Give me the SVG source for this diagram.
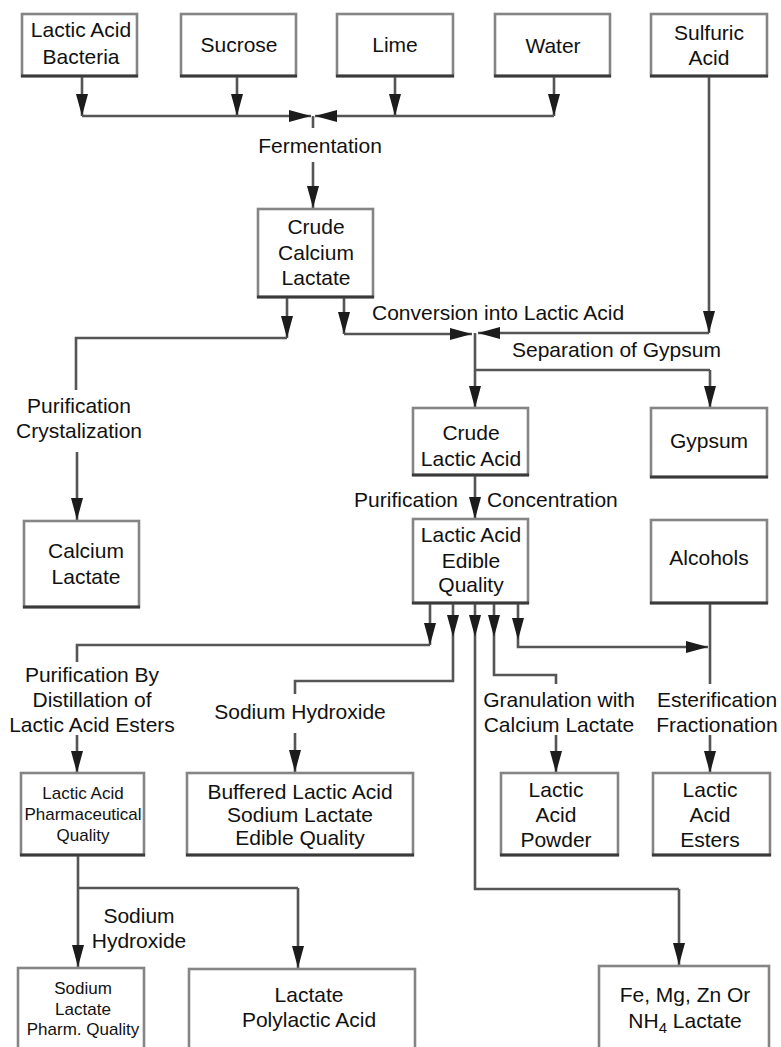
<svg xmlns="http://www.w3.org/2000/svg" width="781" height="1047" viewBox="0 0 781 1047">
  <style>
    text { font-family: "Liberation Sans", Arial, sans-serif; font-size: 21px; fill: #111; text-anchor: middle; }
    text.sm { font-size: 17px; }
    text.l { text-anchor: start; }
    text.r { text-anchor: end; }
    .box { fill: #fff; stroke: #858585; stroke-width: 2.6; }
    .base { stroke: #3a3a3a; stroke-width: 3; }
    .ln { fill: none; stroke: #555; stroke-width: 2.6; stroke-linejoin: miter; }
    .ar { fill: none; stroke: #555; stroke-width: 2.6; marker-end: url(#ah); }
  </style>
  <defs>
    <marker id="ah" markerUnits="userSpaceOnUse" markerWidth="22" markerHeight="12" refX="22" refY="6" orient="auto">
      <path d="M0,0 L22,6 L0,12 Z" fill="#1c1c1c"/>
    </marker>
  </defs>
  <rect width="781" height="1047" fill="#fff"/>

  <!-- connectors -->
  <g id="connectors">
    <!-- raw materials into fermentation -->
    <path class="ar" d="M82,76 V116"/>
    <path class="ar" d="M237,76 V116"/>
    <path class="ar" d="M395,76 V116"/>
    <path class="ar" d="M554,76 V116"/>
    <path class="ar" d="M82,116 H311"/>
    <path class="ar" d="M554,116 H315"/>
    <path class="ln" d="M313,116 V128"/>
    <path class="ar" d="M313,162 V208"/>
    <!-- crude calcium lactate branches -->
    <path class="ar" d="M287,297 V338"/>
    <path class="ln" d="M287,338 H76 V390"/>
    <path class="ar" d="M77,452 V520"/>
    <path class="ar" d="M344,297 V334"/>
    <path class="ar" d="M344,334 H472"/>
    <!-- sulfuric acid -->
    <path class="ar" d="M709,76 V333"/>
    <path class="ar" d="M709,333 H478"/>
    <!-- gypsum separation -->
    <path class="ar" d="M475,333 V408"/>
    <path class="ln" d="M475,370 H710"/>
    <path class="ar" d="M710,370 V408"/>
    <path class="ar" d="M475,475 V519"/>
    <!-- edible quality outputs -->
    <path class="ar" d="M430,603 V645"/>
    <path class="ln" d="M430,645 H77 V662"/>
    <path class="ar" d="M453,603 V637"/>
    <path class="ln" d="M453,637 V681 H295 V694"/>
    <path class="ar" d="M475,603 V637"/>
    <path class="ln" d="M475,637 V889 H679"/>
    <path class="ar" d="M679,889 V965"/>
    <path class="ar" d="M494,603 V637"/>
    <path class="ln" d="M494,637 V675 H556 V684"/>
    <path class="ar" d="M518,603 V640"/>
    <path class="ar" d="M518,640 V647 H708"/>
    <path class="ln" d="M710,603 V684"/>
    <path class="ar" d="M77,735 V773"/>
    <path class="ar" d="M295,733 V772"/>
    <path class="ar" d="M556,735 V773"/>
    <path class="ar" d="M710,735 V773"/>
    <!-- pharmaceutical quality outputs -->
    <path class="ar" d="M78,855 V967"/>
    <path class="ln" d="M78,888 H298"/>
    <path class="ar" d="M298,888 V968"/>
  </g>

  <!-- process labels -->
  <g id="labels">
    <text x="320" y="153">Fermentation</text>
    <text class="l" x="372" y="320">Conversion into Lactic Acid</text>
    <text class="l" x="512" y="357">Separation of Gypsum</text>
    <text x="79" y="413">Purification</text>
    <text x="79" y="438">Crystalization</text>
    <text class="r" x="458" y="507">Purification</text>
    <text class="l" x="487" y="507">Concentration</text>
    <text x="92" y="682">Purification By</text>
    <text x="92" y="707">Distillation of</text>
    <text x="92" y="732">Lactic Acid Esters</text>
    <text x="300" y="719">Sodium Hydroxide</text>
    <text x="559" y="707">Granulation with</text>
    <text x="559" y="732">Calcium Lactate</text>
    <text x="717" y="707">Esterification</text>
    <text x="717" y="732">Fractionation</text>
    <text x="139" y="923">Sodium</text>
    <text x="139" y="948">Hydroxide</text>
  </g>

  <g id="lactic-acid-bacteria">
    <rect class="box" x="22" y="14" width="115" height="62"/>
    <line class="base" x1="21" y1="76" x2="138" y2="76"/>
    <text x="81" y="37">Lactic Acid</text>
    <text x="81" y="64">Bacteria</text>
  </g>
  <g id="sucrose">
    <rect class="box" x="181" y="14" width="115" height="62"/>
    <line class="base" x1="180" y1="76" x2="297" y2="76"/>
    <text x="239" y="52">Sucrose</text>
  </g>
  <g id="lime">
    <rect class="box" x="337" y="14" width="116" height="62"/>
    <line class="base" x1="336" y1="76" x2="454" y2="76"/>
    <text x="395" y="52">Lime</text>
  </g>
  <g id="water">
    <rect class="box" x="495" y="14" width="115" height="62"/>
    <line class="base" x1="494" y1="76" x2="611" y2="76"/>
    <text x="553" y="53">Water</text>
  </g>
  <g id="sulfuric-acid">
    <rect class="box" x="651" y="14" width="116" height="62"/>
    <line class="base" x1="650" y1="76" x2="768" y2="76"/>
    <text x="709" y="40">Sulfuric</text>
    <text x="709" y="65">Acid</text>
  </g>
  <g id="crude-calcium-lactate">
    <rect class="box" x="258" y="209" width="115" height="88"/>
    <line class="base" x1="257" y1="297" x2="374" y2="297"/>
    <text x="316" y="234">Crude</text>
    <text x="316" y="260">Calcium</text>
    <text x="316" y="285">Lactate</text>
  </g>
  <g id="crude-lactic-acid">
    <rect class="box" x="413" y="408" width="115" height="67"/>
    <line class="base" x1="412" y1="475" x2="529" y2="475"/>
    <text x="471" y="440">Crude</text>
    <text x="471" y="466">Lactic Acid</text>
  </g>
  <g id="gypsum">
    <rect class="box" x="651" y="408" width="116" height="69"/>
    <line class="base" x1="650" y1="477" x2="768" y2="477"/>
    <text x="709" y="448">Gypsum</text>
  </g>
  <g id="calcium-lactate">
    <rect class="box" x="24" y="521" width="115" height="86"/>
    <line class="base" x1="23" y1="607" x2="140" y2="607"/>
    <text x="86" y="558">Calcium</text>
    <text x="86" y="584">Lactate</text>
  </g>
  <g id="lactic-acid-edible">
    <rect class="box" x="413" y="519" width="115" height="84"/>
    <line class="base" x1="412" y1="603" x2="529" y2="603"/>
    <text x="471" y="542">Lactic Acid</text>
    <text x="471" y="568">Edible</text>
    <text x="471" y="592">Quality</text>
  </g>
  <g id="alcohols">
    <rect class="box" x="651" y="520" width="116" height="83"/>
    <line class="base" x1="650" y1="603" x2="768" y2="603"/>
    <text x="709" y="565">Alcohols</text>
  </g>
  <g id="lactic-acid-pharmaceutical">
    <rect class="box" x="21" y="773" width="123" height="82"/>
    <line class="base" x1="20" y1="855" x2="145" y2="855"/>
    <text class="sm" x="83" y="799">Lactic Acid</text>
    <text class="sm" x="83" y="820">Pharmaceutical</text>
    <text class="sm" x="83" y="841">Quality</text>
  </g>
  <g id="buffered-lactic-acid">
    <rect class="box" x="187" y="773" width="226" height="82"/>
    <line class="base" x1="186" y1="855" x2="414" y2="855"/>
    <text x="300" y="799">Buffered Lactic Acid</text>
    <text x="300" y="822">Sodium Lactate</text>
    <text x="300" y="845">Edible Quality</text>
  </g>
  <g id="lactic-acid-powder">
    <rect class="box" x="501" y="773" width="117" height="82"/>
    <line class="base" x1="500" y1="855" x2="619" y2="855"/>
    <text x="556" y="797">Lactic</text>
    <text x="556" y="822">Acid</text>
    <text x="556" y="847">Powder</text>
  </g>
  <g id="lactic-acid-esters">
    <rect class="box" x="653" y="773" width="117" height="82"/>
    <line class="base" x1="652" y1="855" x2="771" y2="855"/>
    <text x="710" y="797">Lactic</text>
    <text x="710" y="822">Acid</text>
    <text x="710" y="847">Esters</text>
  </g>
  <g id="sodium-lactate-pharm">
    <rect class="box" x="18" y="968" width="126" height="90"/>
    <text class="sm" x="83" y="994">Sodium</text>
    <text class="sm" x="83" y="1015">Lactate</text>
    <text class="sm" x="83" y="1035">Pharm. Quality</text>
  </g>
  <g id="polylactic-acid">
    <rect class="box" x="189" y="969" width="226" height="90"/>
    <text x="309" y="1002">Lactate</text>
    <text x="309" y="1027">Polylactic Acid</text>
  </g>
  <g id="metal-lactates">
    <rect class="box" x="599" y="966" width="170" height="92"/>
    <text x="685" y="1002">Fe, Mg, Zn Or</text>
    <text x="685" y="1028">NH<tspan font-size="15" dy="5">4</tspan><tspan dy="-5"> Lactate</tspan></text>
  </g>
</svg>
